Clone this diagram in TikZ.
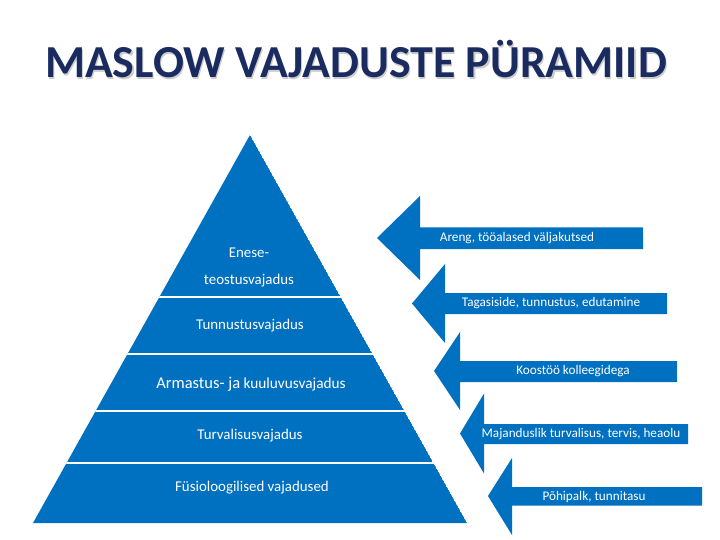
\documentclass[tikz,border=0pt]{standalone}
\usepackage{fontspec}
\setmainfont{Carlito}
\definecolor{pyblue}{HTML}{0070C0}
\definecolor{navy}{HTML}{1A2B5F}
\begin{document}
\begin{tikzpicture}[x=1pt,y=-1pt,
  lbl/.style={text=white,font=\fontsize{14.9}{16}\selectfont,inner sep=0pt},
  albl/.style={text=white,font=\fontsize{13.2}{14}\selectfont,inner sep=0pt},
  barrow/.style={fill=pyblue,draw=none}]
\useasboundingbox (0,0) rectangle (720,540);
% title
\node[anchor=base west,inner sep=0pt,text=black!20,font=\fontsize{45.8}{48}\selectfont\bfseries] (titleshadow) at (46.3,79.3) {MASLOW VAJADUSTE PÜRAMIID};
\node[anchor=base west,inner sep=0pt,text=navy,font=\fontsize{45.8}{48}\selectfont\bfseries] (title) at (45,78) {MASLOW VAJADUSTE PÜRAMIID};
% pyramid
\begin{scope}
\clip (250,135) -- (467,523) -- (33,523) -- cycle;
\fill[pyblue] (250,135) -- (467,523) -- (33,523) -- cycle;
\foreach \yy in {297,354,411,463} \draw[white,line width=2.6pt] (0,\yy) -- (720,\yy);
\end{scope}
\node[lbl] (l1a) at (249,253) {Enese-};
\node[lbl] (l1b) at (249,281) {teostusvajadus};
\node[lbl] (l2) at (250,326) {Tunnustusvajadus};
\node[lbl] (l3) at (251,384) {{\fontsize{16.5}{17}\selectfont Armastus- ja} {\fontsize{15.3}{17}\selectfont kuuluvusvajadus}};
\node[lbl] (l4) at (250,436) {Turvalisusvajadus};
\node[lbl] (l5) at (252,488) {Füsioloogilised vajadused};
% arrows
\fill[barrow] (377,238) -- (420,196) -- (420,227.5) -- (643,227.5) -- (643,249) -- (420,249) -- (420,280) -- cycle;
\node[albl] (a1) at (517,238) {Areng, tööalased väljakutsed};
\fill[barrow] (412,303.5) -- (445,264) -- (445,293) -- (667,293) -- (667,314) -- (445,314) -- (445,343) -- cycle;
\node[albl] (a2) at (551,303.5) {Tagasiside, tunnustus, edutamine};
\fill[barrow] (434,371) -- (460,332) -- (460,361) -- (677,361) -- (677,382) -- (460,382) -- (460,410) -- cycle;
\node[albl] (a3) at (573,371) {Koostöö kolleegidega};
\fill[barrow] (460,433.5) -- (484,393.5) -- (484,424) -- (688,424) -- (688,444) -- (484,444) -- (484,473.5) -- cycle;
\node[albl] (a4) at (581,434) {Majanduslik turvalisus, tervis, heaolu};
\fill[barrow] (488,496) -- (512,458) -- (512,487) -- (702,487) -- (702,505.5) -- (512,505.5) -- (512,535) -- cycle;
\node[albl] (a5) at (594,496.5) {Põhipalk, tunnitasu};
\end{tikzpicture}
\end{document}
